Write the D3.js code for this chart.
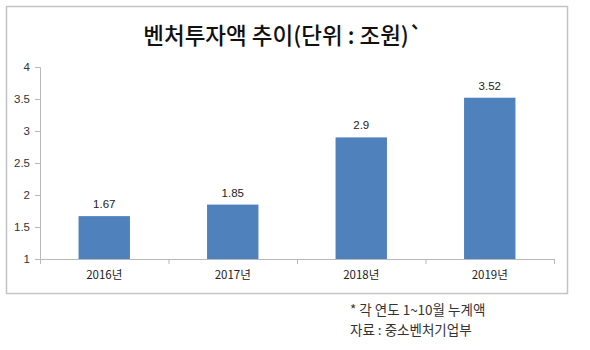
<!DOCTYPE html>
<html><head><meta charset="utf-8">
<script src="https://cdn.jsdelivr.net/npm/d3@7"></script>
<style>body{margin:0;background:#fff;}svg{display:block;}</style>
</head><body>
<svg id="c" width="590" height="350"></svg>
<script>
const categories = ["2016년", "2017년", "2018년", "2019년"];
const values = [1.67, 1.85, 2.9, 3.52];
const valueLabels = ["1.67", "1.85", "2.9", "3.52"];
const yTicks = [1, 1.5, 2, 2.5, 3, 3.5, 4];
const title = "벤처투자액 추이(단위 : 조원)`";
const notes = ["* 각 연도 1~10월 누계액", "자료 : 중소벤처기업부"];

const svg = d3.select("#c");
const font = "'Noto Sans CJK KR','Noto Sans',sans-serif";

svg.append("rect").attr("x", 6.5).attr("y", 6.5).attr("width", 561).attr("height", 287)
  .attr("fill", "#fff").attr("stroke", "#c4c4c4").attr("stroke-width", 1.5);

svg.append("text").attr("x", 283).attr("y", 44).attr("text-anchor", "middle")
  .attr("font-family", font).attr("font-size", 22.5).attr("font-weight", 500).attr("fill", "#111")
  .text(title);

const x = d3.scaleBand().domain(categories).range([40, 554]).paddingInner(0.6).paddingOuter(0.3);
const y = d3.scaleLinear().domain([1, 4]).range([259, 67]);

const yAxis = svg.append("g").attr("transform", "translate(40,0)")
  .call(d3.axisLeft(y).tickValues(yTicks).tickFormat(d3.format("")).tickSize(5).tickPadding(5));
yAxis.select(".domain").attr("stroke", "#b8b8b8").attr("d", "M-5,67.5H0.5V259.5");
yAxis.selectAll(".tick line").attr("stroke", "#b8b8b8");
yAxis.selectAll(".tick text").attr("font-family", "'Liberation Sans',Arial,sans-serif").attr("font-size", 11.5).attr("fill", "#333");

const xAxis = svg.append("g").attr("transform", "translate(0,259)")
  .call(d3.axisBottom(x).tickSize(0).tickPadding(12));
xAxis.select(".domain").attr("stroke", "#b8b8b8");
xAxis.selectAll(".tick text").attr("font-family", font).attr("font-size", 11.5).attr("font-weight", 400).attr("fill", "#222");
// category boundary ticks
svg.append("g").selectAll("line").data(d3.range(categories.length + 1)).join("line")
  .attr("x1", i => 40 + i * x.step() + 0.5)
  .attr("x2", i => 40 + i * x.step() + 0.5)
  .attr("y1", 259).attr("y2", 264).attr("stroke", "#b8b8b8");

svg.append("g").selectAll("rect").data(values).join("rect")
  .attr("x", (d, i) => x(categories[i])).attr("width", x.bandwidth())
  .attr("y", d => y(d)).attr("height", d => y(1) - y(d))
  .attr("fill", "#4f81bd");

svg.append("g").selectAll("text").data(values).join("text")
  .attr("x", (d, i) => x(categories[i]) + x.bandwidth() / 2)
  .attr("y", d => y(d) - 8).attr("text-anchor", "middle")
  .attr("font-family", "'Liberation Sans',Arial,sans-serif").attr("font-size", 11.5).attr("fill", "#222")
  .text((d, i) => valueLabels[i]);

svg.append("g").selectAll("text").data(notes).join("text")
  .attr("x", 350).attr("y", (d, i) => 315 + i * 20)
  .attr("font-family", font).attr("font-size", 13.5).attr("fill", "#333")
  .text(d => d);
</script>
</body></html>
